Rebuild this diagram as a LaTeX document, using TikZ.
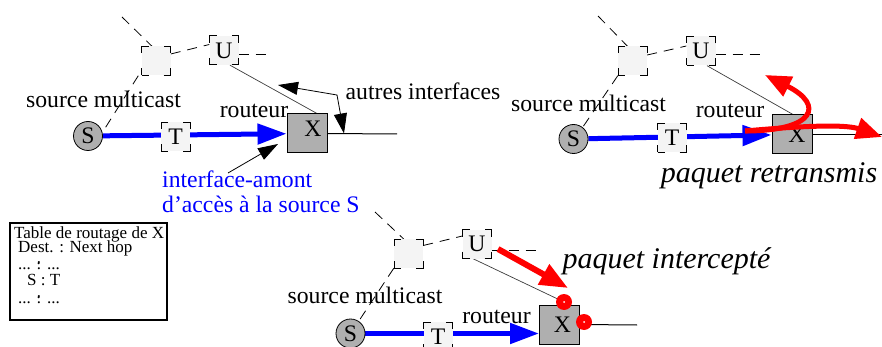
\documentclass[tikz,border=0pt]{standalone}
\usepackage{fontspec}
\setmainfont{Liberation Serif}
\usetikzlibrary{arrows.meta,calc}
\pgfdeclarelayer{background}
\pgfsetlayers{background,main}
\definecolor{boxgray}{RGB}{175,175,175}
\definecolor{lightbox}{RGB}{244,244,244}
\definecolor{thinline}{RGB}{60,60,60}
\newcommand\mainfs{\fontsize{23.7pt}{28pt}\selectfont}
\newcommand\bigit{\fontsize{30pt}{34pt}\selectfont\itshape}
\newcommand\tabfs{\fontsize{17pt}{20pt}\selectfont}
\newcommand\vdt{\rlap{\raisebox{4.5pt}{.}}:}
\tikzset{
  cornerbox/.style={rectangle, fill=lightbox, minimum width=29pt, minimum height=29pt,
    inner sep=0pt, font=\mainfs,
    postaction={draw, line width=1pt, dash pattern=on 14pt off 15pt, dash phase=7pt}},
  xbox/.style={rectangle, fill=boxgray, draw, line width=1pt, minimum width=40pt,
    minimum height=39pt, inner sep=0pt, font=\mainfs},
  scirc/.style={circle, fill=boxgray, draw, line width=0.8pt, minimum size=29pt,
    inner sep=0pt, font=\mainfs},
  lbl/.style={font=\mainfs, inner sep=0pt, anchor=base},
  tabtxt/.style={font=\tabfs, inner sep=0pt, anchor=base west},
  dsh/.style={draw, line width=0.8pt, dash pattern=on 10pt off 7pt},
  thinl/.style={draw=thinline, line width=0.7pt},
  blueline/.style={draw=blue, line width=5pt, -{Triangle[length=29pt,width=20pt]}},
  redarr/.style={draw=red, line width=5pt, -{Triangle[length=26pt,width=21pt]}},
  blk/.style={draw, line width=1pt},
  blkarr/.style={draw, line width=0.8pt, -{Triangle[length=20pt,width=13pt]}},
  redc/.style={circle, fill=red, minimum size=16pt, inner sep=0pt,
    path picture={\fill[white] (path picture bounding box.center) circle (1pt);}}
}
\begin{document}
\begin{tikzpicture}[x=1pt,y=-1pt]
\useasboundingbox (0,0) rectangle (882,347);

% ---------------- Panel 1 ----------------
\node[cornerbox] (B1) at (156,61) {};
\node[cornerbox] (U1) at (224,50.5) {U};
\node[cornerbox] (T1) at (175.5,137) {T};
\node[scirc] (S1) at (88,136) {S};
\node[xbox] (X1) at (307,133.5) {\hspace*{12pt}\raisebox{10pt}{X}};
\node[lbl] (sm1) at (103.5,108) {source multicast};
\node[lbl] (r1) at (254,118) {routeur};
\node[lbl] (ai) at (423,100) {autres interfaces};
\node[lbl, anchor=base west, text=blue] (ia1) at (162,188) {interface-amont};
\node[lbl, anchor=base west, text=blue] (ia2) at (162,212) {d’accès à la source S};
\coordinate (e1) at (122,17);
\coordinate (f1) at (270,54);
\coordinate (o1) at (397,134);
\coordinate (a1) at (278,85);
\coordinate (a2) at (337,95);
\coordinate (a3) at (344,133.5);
\coordinate (i0) at (228,173);
\coordinate (i1) at (278,144);
\begin{pgfonlayer}{background}
\draw[blueline] (S1) -- (X1);
\draw[thinl] ([xshift=6pt]U1.south) -- ([xshift=10pt]X1.north);
\draw[blk] (X1.east) -- (o1);
\draw[dsh] (e1) -- ([xshift=-4pt]B1.north);
\draw[dsh] ([yshift=7pt]B1.east) -- ([yshift=6pt]U1.west);
\draw[dsh] ([yshift=-3.5pt]U1.east) -- (f1);
\end{pgfonlayer}
\draw[dsh] ([xshift=-3pt]B1.south west) -- ($(S1)+(14,-3)$);
\draw[{Triangle[length=20pt,width=13pt]}-{Triangle[length=20pt,width=13pt]}, line width=0.8pt] (a1) -- (a2) -- (a3);
\draw[blkarr] (i0) -- (i1);

% ---------------- Panel 2 ----------------
\node[cornerbox] (B2) at (632.5,61) {};
\node[cornerbox] (U2) at (701,51) {U};
\node[cornerbox] (T2) at (672,138) {T};
\node[scirc] (S2) at (573.5,139) {S};
\node[xbox] (X2) at (792,134.5) {\hspace*{10pt}X};
\node[lbl] (sm2) at (588.5,112) {source multicast};
\node[lbl] (r2) at (730,118) {routeur};
\node[inner sep=0pt, anchor=base, font=\bigit] (pr) at (769,183) {paquet retransmis};
\coordinate (e2) at (598,16);
\coordinate (f2) at (765,54);
\coordinate (o2) at (882,134.5);
\coordinate (q0) at (745,131);
\coordinate (q1) at (765,75);
\coordinate (q2) at (882,137);
\begin{pgfonlayer}{background}
\draw[blueline] (S2) -- (X2);
\draw[thinl] ([xshift=6pt]U2.south) -- ([xshift=1pt]X2.north);
\draw[blk] (X2.east) -- (o2);
\draw[dsh] (e2) -- ([xshift=-5pt]B2.north);
\draw[dsh] ([yshift=6pt]B2.east) -- ([yshift=5pt]U2.west);
\draw[dsh] ([yshift=-3pt]U2.east) -- (f2);
\end{pgfonlayer}
\draw[dsh] (B2.south west) -- ($(S2)+(8,-10)$);
\draw[redarr] (q0) .. controls (815,131) and (825,105) .. (q1);
\draw[redarr] (q0) .. controls (800,126) and (845,124) .. (q2);

% ---------------- Panel 3 ----------------
\node[cornerbox] (B3) at (408.5,253.5) {};
\node[cornerbox] (U3) at (477,244) {U};
\node[cornerbox] (T3) at (438,336.5) {T};
\node[scirc] (S3) at (350.5,333.5) {S};
\node[xbox] (X3) at (559.5,324.5) {\hspace*{6pt}X};
\node[lbl] (sm3) at (365,303) {source multicast};
\node[lbl] (r3) at (496.5,323) {routeur};
\node[inner sep=0pt, anchor=base, font=\bigit] (pi) at (666.5,268) {paquet intercepté};
\coordinate (e3) at (375,212);
\coordinate (f3) at (540,250);
\coordinate (o3) at (637,325);
\coordinate (p0) at (498,249);
\coordinate (p1) at (568,288);
\begin{pgfonlayer}{background}
\draw[blueline] (S3) -- (X3.west |- S3);
\draw[thinl] ([xshift=-4pt]U3.south) -- (564,302);
\draw[blk] (X3.east) -- (o3);
\draw[dsh] (e3) -- ([xshift=-5pt]B3.north);
\draw[dsh] ([yshift=8pt]B3.east) -- ([yshift=8pt]U3.west);
\draw[dsh] ([yshift=-6pt]U3.east) -- (f3);
\end{pgfonlayer}
\draw[dsh] (B3.south west) -- ($(S3)+(8,-12)$);
\node[redc] (R1) at (564,302) {};
\node[redc] (R2) at (584,322) {};
\draw[draw=red, line width=6pt, -{Triangle[length=28pt,width=22pt]}] (p0) -- (p1);

% ---------------- Table ----------------
\node[draw, line width=1.5pt, minimum width=157pt, minimum height=97pt, inner sep=0pt,
  anchor=north west] (tab) at (9,222) {};
\node[tabtxt] (t1) at (14,238) {Table de routage de X};
\node[tabtxt] (t2) at (18,252) {Dest. : Next hop};
\node[tabtxt] (t3) at (18,269) {... \vdt{} ...};
\node[tabtxt] (t4) at (27,285) {S : T};
\node[tabtxt] (t5) at (18,303) {... \vdt{} ...};
\end{tikzpicture}
\end{document}
